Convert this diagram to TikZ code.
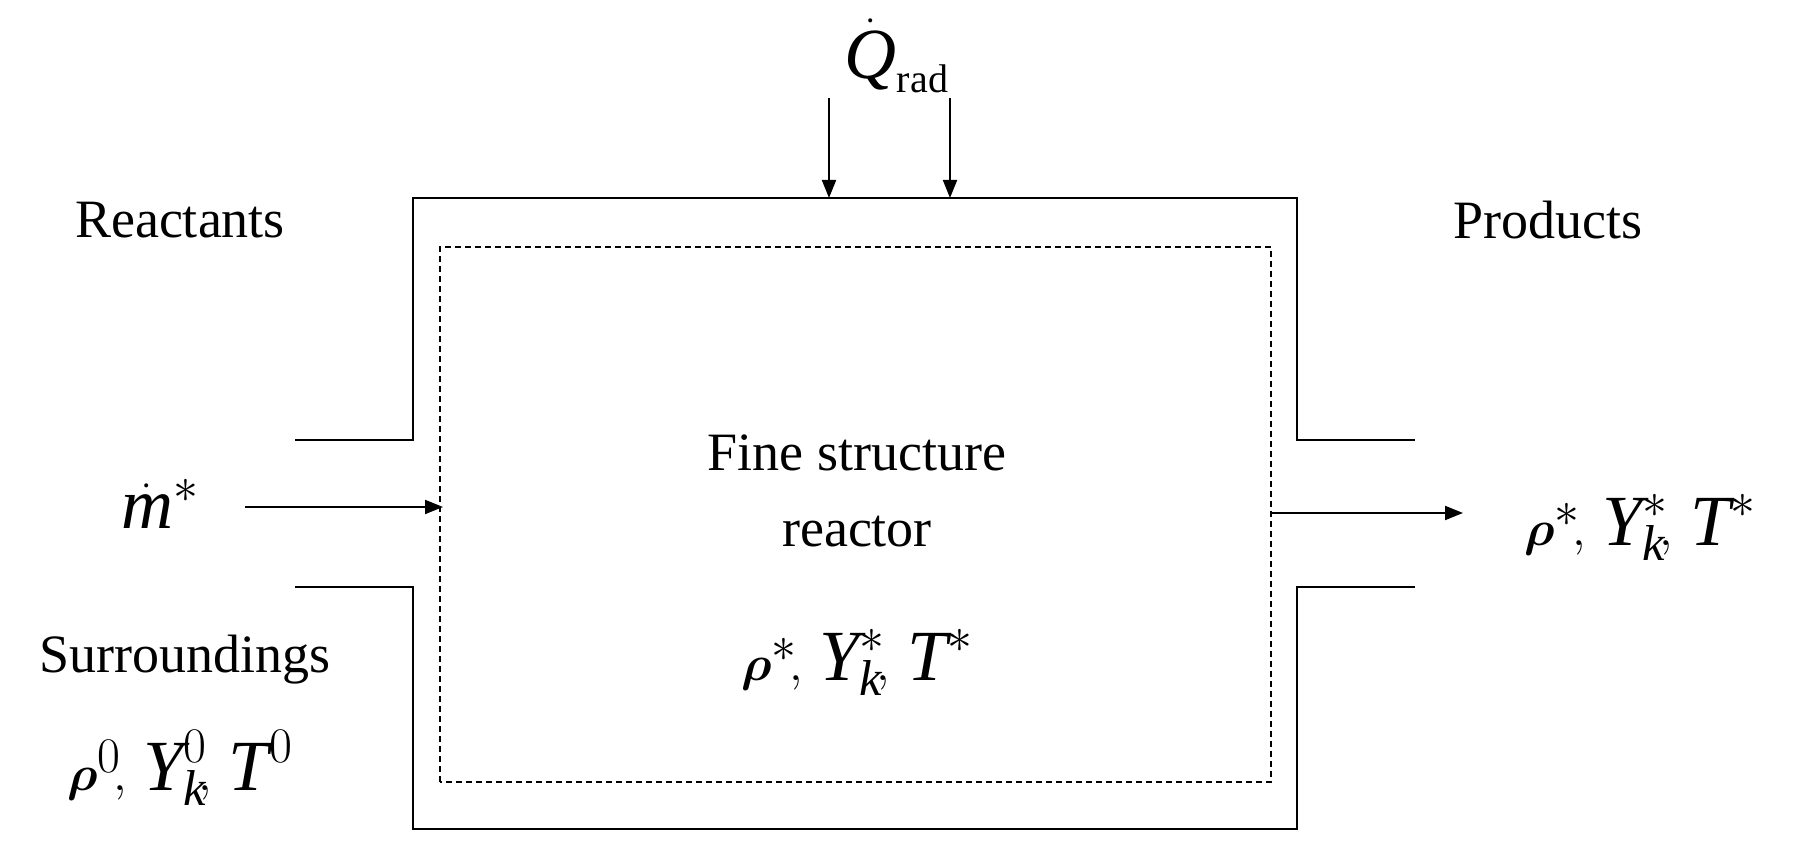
\documentclass[tikz,border=0pt]{standalone}
\usepackage{amsmath}
\usepackage{fontspec}
\setmainfont{Liberation Serif}
\usetikzlibrary{arrows.meta}
\newcommand{\vi}[1]{\textit{#1}}
\begin{document}
\begin{tikzpicture}[x=0.5pt,y=0.5pt,
  txt/.style={font=\fontsize{27}{32}\selectfont},
  mth/.style={font=\fontsize{36}{40}\selectfont},
  ln/.style={line width=1pt},
  arr/.style={ln,-{Triangle[length=9pt,width=7pt]}}]
\useasboundingbox (0,0) rectangle (1814,844);
\draw[ln] (295,404) -- (413,404) -- (413,646) -- (1297,646) -- (1297,404) -- (1415,404);
\draw[ln] (295,257) -- (413,257) -- (413,15) -- (1297,15) -- (1297,257) -- (1415,257);
\draw[ln,dashed,dash pattern=on 3pt off 2pt,line width=0.6pt] (440,62) rectangle (1271,597);
\coordinate (i0) at (245,337); \coordinate (i1) at (443,337);
\coordinate (o0) at (1271,331); \coordinate (o1) at (1463,331);
\draw[arr] (i0) -- (i1);
\draw[arr] (o0) -- (o1);
\coordinate (q1a) at (829,746); \coordinate (q1b) at (829,646);
\coordinate (q2a) at (950,746); \coordinate (q2b) at (950,646);
\draw[arr] (q1a) -- (q1b);
\draw[arr] (q2a) -- (q2b);
\node[mth] (q) at (897,788) {$\dot{\vi{Q}}_{\mbox{\fontsize{20}{22}\selectfont rad}}$};
\node[txt] (re) at (180,624) {Reactants};
\node[txt] (pr) at (1548,624) {Products};
\node[mth] (md) at (160,340) {$\dot{\vi{m}}^{*}$};
\node[txt] (su) at (185,184) {Surroundings};
\node[mth] (s0) at (180,76) {$\boldsymbol{\rho}^{0}\!,\, \vi{Y}_{\vi{k}}^{0}\!,\, \vi{T}^{0}$};
\node[txt,align=center] (fs) at (857,353) {Fine structure\\[6pt]reactor};
\node[mth] (in) at (857,182) {$\boldsymbol{\rho}^{*}\!,\, \vi{Y}_{\vi{k}}^{*}\!,\, \vi{T}^{*}$};
\node[mth] (out) at (1640,317) {$\boldsymbol{\rho}^{*}\!,\, \vi{Y}_{\vi{k}}^{*}\!,\, \vi{T}^{*}$};
\end{tikzpicture}
\end{document}
